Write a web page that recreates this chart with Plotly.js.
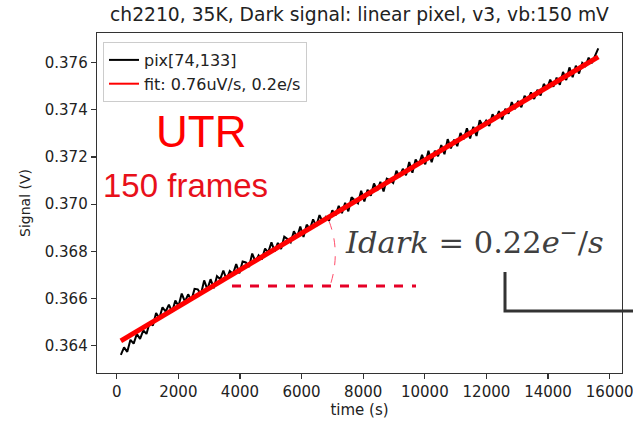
<!DOCTYPE html>
<html>
<head>
<meta charset="utf-8">
<script src="https://cdn.plot.ly/plotly-3.0.1.min.js"></script>
<style>
html,body{margin:0;padding:0;background:#fff;}
#chart{width:633px;height:423px;}
</style>
</head>
<body>
<div id="chart"></div>
<script>
// ---- data ----
const frameCount = 150;
const firstFrameTime = 134;   // s
const framePeriod = 104;      // s
const signalV = [
0.36361,0.36393,0.36374,0.36425,0.36409,0.36450,0.36429,0.36465,0.36450,0.36500,
0.36486,0.36539,0.36516,0.36563,0.36545,0.36574,0.36543,0.36592,0.36568,0.36621,
0.36587,0.36618,0.36592,0.36641,0.36639,0.36618,0.36677,0.36639,0.36682,0.36644,
0.36695,0.36682,0.36719,0.36680,0.36717,0.36704,0.36746,0.36707,0.36757,0.36753,
0.36734,0.36791,0.36756,0.36783,0.36766,0.36812,0.36796,0.36838,0.36800,0.36836,
0.36810,0.36862,0.36852,0.36838,0.36885,0.36860,0.36905,0.36861,0.36913,0.36895,
0.36936,0.36907,0.36954,0.36925,0.36946,0.36930,0.36974,0.36952,0.36993,0.36962,
0.37006,0.36970,0.37030,0.37015,0.37004,0.37057,0.37012,0.37061,0.37036,0.37088,
0.37057,0.37095,0.37054,0.37108,0.37102,0.37090,0.37142,0.37116,0.37150,0.37123,
0.37179,0.37133,0.37190,0.37167,0.37209,0.37169,0.37227,0.37178,0.37227,0.37203,
0.37251,0.37212,0.37276,0.37236,0.37274,0.37246,0.37302,0.37275,0.37322,0.37279,
0.37328,0.37289,0.37356,0.37332,0.37354,0.37332,0.37381,0.37358,0.37395,0.37359,
0.37405,0.37384,0.37433,0.37403,0.37438,0.37411,0.37460,0.37440,0.37474,0.37446,
0.37485,0.37461,0.37510,0.37489,0.37528,0.37498,0.37537,0.37506,0.37561,0.37526,
0.37580,0.37538,0.37587,0.37554,0.37599,0.37586,0.37621,0.37598,0.37633,0.37661
];
const fitTimes = [134, 15630];
const fitValues = [0.36421, 0.37625];
const xTickVals = [0,2000,4000,6000,8000,10000,12000,14000,16000];
const yTickVals = [0.364,0.366,0.368,0.370,0.372,0.374,0.376];
const seriesNames = ["pix[74,133]", "fit: 0.76uV/s, 0.2e/s"];
const titleText = "ch2210, 35K, Dark signal: linear pixel, v3, vb:150 mV";

const timeS = [];
for (let i = 0; i < frameCount; i++) timeS.push(firstFrameTime + i * framePeriod);

// ---- geometry helpers (plot area in page pixels) ----
const W = 633, H = 423;
const L = 97, R = 622, T = 33, B = 373;
const px = x => (x - L) / (R - L);
const py = y => (B - y) / (B - T);

const traces = [
  {x: timeS, y: signalV, mode: 'lines', name: seriesNames[0], showlegend: false,
   line: {color: '#000000', width: 2}},
  {x: fitTimes, y: fitValues, mode: 'lines', name: seriesNames[1], showlegend: false,
   line: {color: '#ff0000', width: 5}},
  // legend entries (thin line samples as in the reference legend)
  {x: [null], y: [null], mode: 'lines', name: seriesNames[0],
   line: {color: '#000000', width: 2}},
  {x: [null], y: [null], mode: 'lines', name: seriesNames[1],
   line: {color: '#ff0000', width: 2}}
];

const axisCommon = {
  ticks: 'outside', ticklen: 5, tickwidth: 1.2, tickcolor: '#333',
  showline: true, linecolor: '#333', linewidth: 1.3, mirror: true,
  showgrid: false, zeroline: false, ticklabeloverflow: 'allow',
  tickfont: {size: 15, color: '#222'}
};

const layout = {
  width: W, height: H,
  margin: {l: L, r: W - R, t: T, b: H - B},
  paper_bgcolor: '#fff', plot_bgcolor: '#fff',
  font: {family: 'DejaVu Sans', color: '#222'},
  title: {text: titleText, xref: 'paper', x: 0.5, xanchor: 'center',
          yref: 'container', y: 1 - 14 / H, yanchor: 'middle',
          font: {size: 18.7, color: '#222'}},
  xaxis: Object.assign({}, axisCommon, {
    range: [-640, 16400], tickvals: xTickVals, tickformat: 'd',
    title: {text: 'time (s)', font: {size: 15}, standoff: 4}
  }),
  yaxis: Object.assign({}, axisCommon, {
    range: [0.362844, 0.377258], tickvals: yTickVals, tickformat: '.3f',
    title: {text: 'Signal (V)', font: {size: 14}, standoff: 10}
  }),
  showlegend: true,
  legend: {x: px(103), y: py(42), xanchor: 'left', yanchor: 'top',
           bgcolor: 'rgba(255,255,255,0.85)', bordercolor: '#cccccc', borderwidth: 1,
           font: {size: 16, color: '#222'}, tracegroupgap: 0, itemwidth: 30},
  annotations: [
    {text: 'UTR', xref: 'paper', yref: 'paper', x: px(201), y: py(131),
     xanchor: 'center', yanchor: 'middle', showarrow: false,
     font: {family: 'Liberation Sans', size: 44, color: '#ff0000'}},
    {text: '150 frames', xref: 'paper', yref: 'paper', x: px(185.5), y: py(185),
     xanchor: 'center', yanchor: 'middle', showarrow: false,
     font: {family: 'Liberation Sans', size: 33, color: '#e8101a'}},
    {text: '<i>Idark</i>\u00a0=\u00a00.22<i>e</i><sup>\u2212</sup>/<i>s</i>',
     xref: 'paper', yref: 'paper', x: px(474), y: py(240),
     xanchor: 'center', yanchor: 'middle', showarrow: false,
     font: {family: 'DejaVu Serif', size: 30.5, color: '#404040'}}
  ],
  shapes: [
    {type: 'line', xref: 'paper', yref: 'paper',
     x0: px(232), x1: px(416), y0: py(286), y1: py(286),
     line: {color: '#e60026', width: 3, dash: 'dash'}},
    {type: 'path', xref: 'paper', yref: 'paper',
     path: 'M ' + px(329) + ',' + py(221) + ' Q ' + px(341) + ',' + py(252) + ' ' + px(330) + ',' + py(286),
     line: {color: '#ff4d6a', width: 1, dash: 'dash'}},
    {type: 'path', xref: 'paper', yref: 'paper',
     path: 'M ' + px(505) + ',' + py(272) + ' L ' + px(505) + ',' + py(311) + ' L ' + px(640) + ',' + py(311),
     line: {color: '#333333', width: 3}}
  ]
};

Plotly.newPlot('chart', traces, layout, {staticPlot: true, displayModeBar: false});
</script>
</body>
</html>
